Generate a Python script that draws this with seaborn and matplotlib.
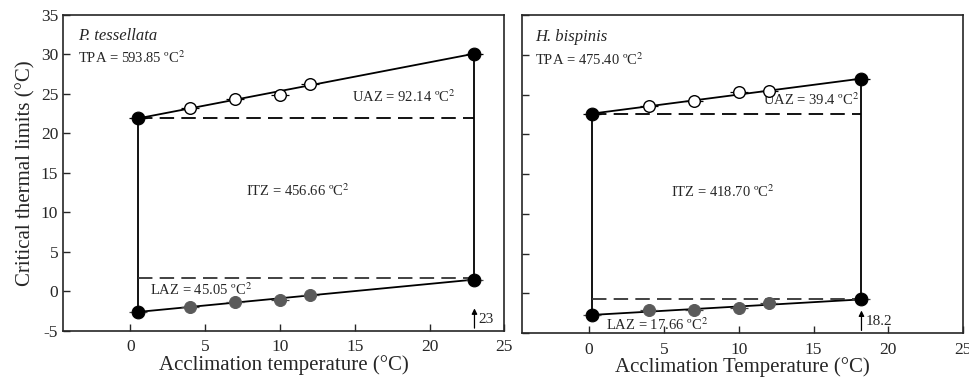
import seaborn as sns
import matplotlib.pyplot as plt
import pandas as pd

# acclimation temperatures of the experiments
ACCLIM = [4, 7, 10, 12]

# P. tessellata
PT_CTMAX = [23.2, 24.3, 24.9, 26.3]
PT_CTMIN = [-1.95, -1.35, -1.05, -0.4]
PT_LOW_T, PT_HIGH_T = 0.5, 23.0
PT_UP_ENDS = [21.9, 30.1]
PT_LOW_ENDS = [-2.6, 1.5]
PT_UAZ_LINE, PT_LAZ_LINE = 22.0, 1.75

# H. bispinis
HB_CTMAX = [23.5, 24.2, 25.3, 25.4]
HB_CTMIN = [-2.1, -2.05, -1.85, -1.2]
HB_LOW_T, HB_HIGH_T = 0.2, 18.2
HB_UP_ENDS = [22.6, 27.0]
HB_LOW_ENDS = [-2.7, -0.75]
HB_UAZ_LINE, HB_LAZ_LINE = 22.6, -0.65

sns.set_style("ticks")
plt.rcParams['font.family'] = ['Liberation Serif', 'DejaVu Serif']
plt.rcParams['mathtext.fontset'] = 'stix'
plt.rcParams['axes.unicode_minus'] = False


def draw_panel(ax, ctmax, ctmin, t_lo, t_hi, up_ends, low_ends, uaz, laz, arrow_lbl):
    ends = pd.DataFrame({"T": [t_lo, t_hi], "up": up_ends, "low": low_ends})
    mid = pd.DataFrame({"T": ACCLIM, "up": ctmax, "low": ctmin})

    # polygon edges
    sns.lineplot(data=ends, x="T", y="up", color="black", lw=1.3, ax=ax)
    sns.lineplot(data=ends, x="T", y="low", color="black", lw=1.3, ax=ax)
    ax.vlines([t_lo], low_ends[0], up_ends[0], color="black", lw=1.3)
    ax.vlines([t_hi], low_ends[1], up_ends[1], color="black", lw=1.3)
    ax.hlines([uaz], t_lo, t_hi, color="black", lw=1.3, linestyles=(0, (8, 4)))
    ax.hlines([laz], t_lo, t_hi, color="#333333", lw=1.3, linestyles=(0, (8, 4)))

    # error caps
    allT = list(ends["T"]) + ACCLIM
    ax.errorbar(allT, up_ends + ctmax, xerr=0.6, fmt="none", ecolor="black", lw=0.9, zorder=3)
    ax.errorbar(allT, low_ends + ctmin, xerr=0.6, fmt="none", ecolor="#444444", lw=0.9, zorder=3)

    # points
    sns.scatterplot(data=mid, x="T", y="up", s=70, facecolor="white", edgecolor="black",
                    linewidth=1.0, ax=ax, zorder=4)
    sns.scatterplot(data=mid, x="T", y="low", s=75, color="#5a5a5a", edgecolor="#5a5a5a",
                    ax=ax, zorder=4)
    sns.scatterplot(data=ends, x="T", y="up", s=85, color="black", edgecolor="black", ax=ax, zorder=5)
    sns.scatterplot(data=ends, x="T", y="low", s=85, color="black", edgecolor="black", ax=ax, zorder=5)

    ax.annotate("", xy=(t_hi, -1.8), xytext=(t_hi, -5),
                arrowprops=dict(arrowstyle="-|>", color="black", lw=0.9, mutation_scale=8))
    ax.text(t_hi + 0.25, -3.5, arrow_lbl, fontsize=11, va="center", ha="left")

    ax.set_xlim(-4.5, 25)
    ax.set_ylim(-5, 35)
    ax.set_xticks([0, 5, 10, 15, 20, 25])
    ax.set_yticks(range(-5, 36, 5))
    ax.tick_params(direction="in", labelsize=12.5, length=5, width=1, top=False, right=False)
    ax.tick_params(axis="x", pad=6)
    for s in ax.spines.values():
        s.set_linewidth(1.2)


fig = plt.figure(figsize=(9.7, 3.83), dpi=100)
ax1 = fig.add_axes([0.065, 0.136, 0.455, 0.825])
ax2 = fig.add_axes([0.538, 0.130, 0.455, 0.831])

draw_panel(ax1, PT_CTMAX, PT_CTMIN, PT_LOW_T, PT_HIGH_T, PT_UP_ENDS, PT_LOW_ENDS,
           PT_UAZ_LINE, PT_LAZ_LINE, "23")
draw_panel(ax2, HB_CTMAX, HB_CTMIN, HB_LOW_T, HB_HIGH_T, HB_UP_ENDS, HB_LOW_ENDS,
           HB_UAZ_LINE, HB_LAZ_LINE, "18.2")

fs = 10.5
ax1.text(-3.5, 32.3, "P. tessellata", fontstyle="italic", fontsize=12, va="center")
ax1.text(-3.5, 29.6, "TPA = 593.85 ºC$^2$", fontsize=fs, va="center")
ax1.text(14.8, 24.6, "UAZ = 92.14 ºC$^2$", fontsize=fs, va="center")
ax1.text(7.7, 12.8, "ITZ = 456.66 ºC$^2$", fontsize=fs, va="center")
ax1.text(1.3, 0.2, "LAZ = 45.05 ºC$^2$", fontsize=fs, va="center")

ax2.text(-3.6, 32.2, "H. bispinis", fontstyle="italic", fontsize=12, va="center")
ax2.text(-3.6, 29.4, "TPA = 475.40 ºC$^2$", fontsize=fs, va="center")
ax2.text(11.6, 24.3, "UAZ = 39.4 ºC$^2$", fontsize=fs, va="center")
ax2.text(5.5, 12.8, "ITZ = 418.70 ºC$^2$", fontsize=fs, va="center")
ax2.text(1.1, -3.9, "LAZ = 17.66 ºC$^2$", fontsize=fs, va="center")

ax1.set_xlabel("Acclimation temperature (°C)", fontsize=15, labelpad=0)
ax1.set_ylabel("Critical thermal limits (°C)", fontsize=15, labelpad=4)
ax2.set_xlabel("Acclimation Temperature (°C)", fontsize=15, labelpad=0)
ax2.set_ylabel("")
ax2.tick_params(labelleft=False)

fig.savefig("out.png", dpi=100)
